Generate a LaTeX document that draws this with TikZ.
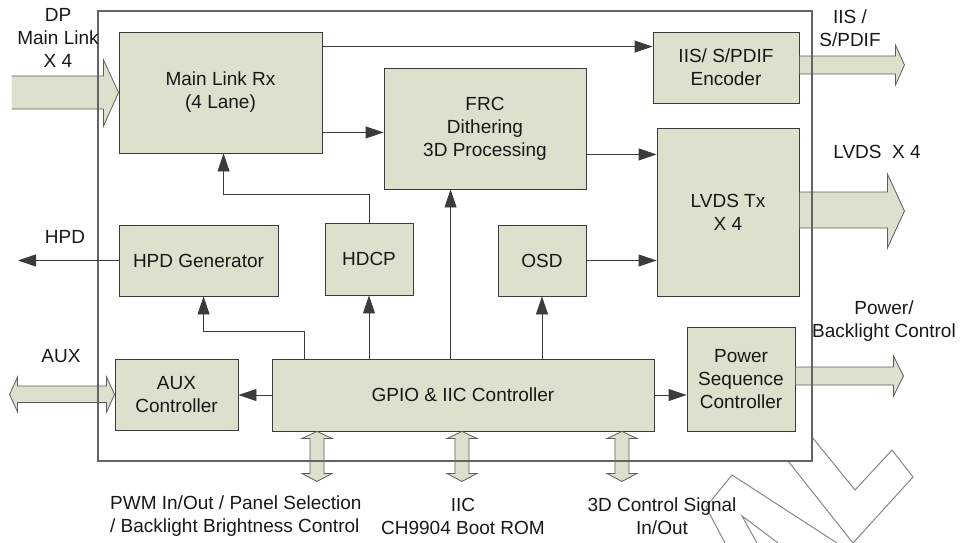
\documentclass[tikz,border=0pt]{standalone}
\usepackage{fontspec}
\setmainfont{Liberation Sans}
\usetikzlibrary{arrows.meta,calc}
\definecolor{boxfill}{RGB}{221,224,204}
\definecolor{ink}{RGB}{24,24,24}
\definecolor{framecol}{RGB}{100,100,100}
\definecolor{wmcol}{RGB}{135,135,135}
\begin{document}
\begin{tikzpicture}[x=1pt,y=-1pt,
  every node/.style={font=\fontsize{19}{23}\selectfont, text=ink, inner sep=0pt},
  box/.style={draw=ink!85, fill=boxfill, line width=0.9pt, align=center},
  lbl/.style={align=center},
  arr/.style={draw=ink!85, line width=0.9pt, -{Triangle[length=18pt,width=12pt]}},
  fat/.style={fill=boxfill, draw=ink!70, line width=0.8pt, line join=miter},
  framebox/.style={draw=framecol, line width=1.2pt},
  wm/.style={draw=wmcol, line width=1pt},
  vdbl/.pic={\filldraw[fat] (0,0)--(15,7)--(7,7)--(7,42)--(15,42)--(0,50)--(-15,42)--(-7,42)--(-7,7)--(-15,7)--cycle;}
]
\useasboundingbox (0,0) rectangle (961,543);

% watermark
\draw[wm] (812,437)--(855,490)--(892,450)--(913,477)--(853,543);
\draw[wm] (788,461)--(853,543);
\draw[wm] (725,543)--(706,507)--(732,475)--(837,543);
\draw[wm] (757,543)--(742,516)--(778,543);

% boxes
\node[box, minimum width=203pt, minimum height=121pt] (mlrx) at (220.5,92.5) {Main Link Rx\\(4 Lane)};
\node[box, minimum width=202pt, minimum height=121pt] (frc) at (485,128.5) {FRC\\Dithering\\3D Processing};
\node[box, minimum width=146pt, minimum height=71pt] (iis) at (726,67.5) {IIS/ S/PDIF\\Encoder};
\node[box, minimum width=142pt, minimum height=168pt] (lvds) at (728,212) {LVDS Tx\\X 4};
\node[box, minimum width=159pt, minimum height=71pt] (hpd) at (198.5,260.5) {HPD Generator};
\node[box, minimum width=88pt, minimum height=72pt] (hdcp) at (369,259) {HDCP};
\node[box, minimum width=88pt, minimum height=71pt] (osd) at (542,260.5) {OSD};
\node[box, minimum width=123pt, minimum height=71pt] (aux) at (176.5,394.5) {AUX\\Controller};
\node[box, minimum width=382pt, minimum height=72pt] (gpio) at (463,395) {GPIO \& IIC Controller};
\node[box, minimum width=108pt, minimum height=104pt] (psc) at (741,379) {Power\\Sequence\\Controller};

% fat arrows
\filldraw[fat, shift={(mlrx.west)}] (-107,-16.5) -- (-15,-16.5) -- (-15,-32.5) -- (0,0) -- (-15,33.5) -- (-15,16.5) -- (-107,16.5);
\filldraw[fat, shift={(iis.east)}] (0,-11.5)--(96,-11.5)--(96,-22.5)--(105,-2.5)--(96,17.5)--(96,6.5)--(0,6.5)--cycle;
\filldraw[fat, shift={(lvds.east)}] (0,-20)--(88,-20)--(88,-38)--(105,-1)--(88,36)--(88,16)--(0,16)--cycle;
\filldraw[fat, shift={(psc.east)}] (0,-12)--(98,-12)--(98,-23)--(108,-3)--(98,17)--(98,6)--(0,6)--cycle;
\filldraw[fat, shift={(aux.west)}] (0,0)--(-8,-17.5)--(-8,-8.5)--(-97,-8.5)--(-97,-17.5)--(-105,0)--(-97,17.5)--(-97,8)--(-8,8)--(-8,17.5)--cycle;
\pic at ($(gpio.south)+(-146,0)$) {vdbl};
\pic at ($(gpio.south)+(-1,0)$) {vdbl};
\pic at ($(gpio.south)+(159,0)$) {vdbl};

% frame
\draw[framebox] (98,11) rectangle (812,461);

% thin connectors
\draw[arr] ($(mlrx.north east)+(0,15)$) -- ($(iis.north west)+(0,15)$);
\coordinate (p1) at ($(mlrx.south east)+(0,-21)$);
\draw[arr] (p1) -- (p1 -| frc.west);
\coordinate (p2) at ($(frc.south east)+(0,-35)$);
\draw[arr] (p2) -- (p2 -| lvds.west);
\draw[arr] (osd.east) -- (osd.east -| lvds.west);
\coordinate (hpdout) at (18,260.5);
\draw[arr] (hpd.west) -- (hpdout);
\draw[arr] (gpio.west) -- (gpio.west -| aux.east);
\draw[arr] (gpio.east) -- (gpio.east -| psc.west);
\draw[arr] (hdcp.south |- gpio.north) -- (hdcp.south);
\coordinate (f) at ($(frc.south west)+(67,0)$);
\draw[arr] (f |- gpio.north) -- (f);
\draw[arr] (osd.south |- gpio.north) -- (osd.south);
\coordinate (h) at ($(hpd.south west)+(85,0)$);
\draw[arr] ($(gpio.north west)+(33,0)$) |- ($(h)+(0,35)$) -- (h);
\coordinate (m) at ($(mlrx.south west)+(105,0)$);
\draw[arr] (hdcp.north) |- ($(m)+(0,41)$) -- (m);

% labels
\node[lbl] (dplbl) at (58,38) {DP\\Main Link\\X 4};
\node[lbl] (iislbl) at (850,28.5) {IIS /\\S/PDIF};
\node[lbl] (lvdslbl) at (877,152) {LVDS\ \ X 4};
\node[lbl] (hpdlbl) at (65,237) {HPD};
\node[lbl] (auxlbl) at (61,356) {AUX};
\node[lbl] (pwrlbl) at (884,321) {Power/\\Backlight Control};
\node[lbl, align=left, anchor=west] (pwmlbl) at (110,516) {PWM In/Out / Panel Selection\\/ Backlight Brightness Control};
\node[lbl] (iiclbl) at (463,516) {IIC\\CH9904 Boot ROM};
\node[lbl] (ctllbl) at (662,516) {3D Control Signal\\In/Out};
\end{tikzpicture}
\end{document}
